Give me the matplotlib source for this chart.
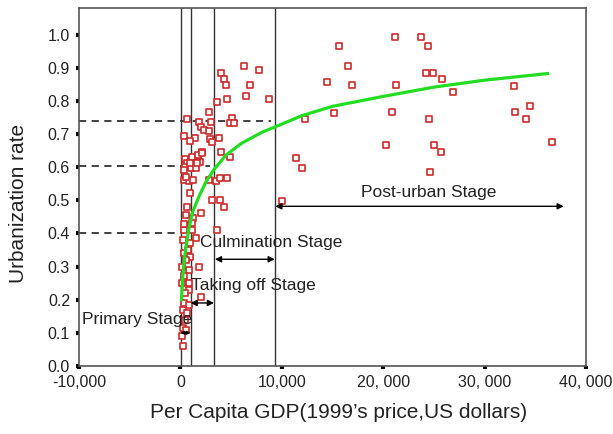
import matplotlib
matplotlib.use("Agg")
import matplotlib.pyplot as plt

plt.rcParams['font.family'] = ['Liberation Sans', 'DejaVu Sans']

# scatter: per capita GDP vs urbanization rate
gdp = [15600, 16500, 14450, 16900, 15100, 12250, 11400, 12000, 10000, 21200,
       23700, 24400, 24200, 24900, 25800, 21300, 20900, 24500, 20300, 25000,
       25700, 24650, 26850, 32900, 34450, 33000, 34100, 36600,
       6300, 7770, 3990, 4320, 4510, 6880, 6490, 4580, 8690, 3620,
       2830, 600, 1820, 3000, 5100, 4900, 5300, 2040, 2280, 2770,
       330, 1480, 2870, 3790, 960, 3070, 2170, 4020, 1720, 4880,
       400, 1220, 1480, 1950, 630, 470, 350, 1050, 1570, 1130,
       1690, 2120, 960, 1620,
       300, 800, 1270, 500, 2840, 3500, 3850, 4580, 970, 3100,
       3850, 4250, 630, 570, 1220, 2010, 450, 1130, 3590, 380,
       1130, 1550, 250, 900, 300, 970, 150, 800, 1790, 300,
       800, 800, 400, 2010, 350, 800, 250, 600, 400, 250,
       500, 200, 240, 200, 700, 500, 300]
urban = [0.967, 0.906, 0.856, 0.847, 0.765, 0.745, 0.629, 0.597, 0.498, 0.994,
         0.994, 0.967, 0.886, 0.886, 0.866, 0.847, 0.767, 0.747, 0.668, 0.668,
         0.647, 0.587, 0.826, 0.846, 0.786, 0.766, 0.746, 0.675,
         0.906, 0.894, 0.886, 0.866, 0.848, 0.848, 0.814, 0.806, 0.806, 0.796,
         0.766, 0.746, 0.736, 0.736, 0.748, 0.735, 0.735, 0.723, 0.713, 0.708,
         0.695, 0.687, 0.685, 0.688, 0.680, 0.675, 0.647, 0.647, 0.634, 0.632,
         0.626, 0.622, 0.614, 0.617, 0.612, 0.602, 0.592, 0.597, 0.597, 0.632,
         0.637, 0.644, 0.612, 0.612,
         0.562, 0.557, 0.560, 0.572, 0.560, 0.557, 0.567, 0.567, 0.522, 0.502,
         0.502, 0.481, 0.481, 0.456, 0.446, 0.461, 0.426, 0.431, 0.409, 0.411,
         0.411, 0.386, 0.381, 0.371, 0.340, 0.330, 0.300, 0.290, 0.300, 0.270,
         0.250, 0.230, 0.220, 0.209, 0.189, 0.184, 0.169, 0.159, 0.139, 0.114,
         0.109, 0.089, 0.060, 0.250, 0.350, 0.320, 0.430]

# fitted trend (green)
fit_gdp = [100, 250, 500, 800, 1200, 1800, 2500, 3300, 4500, 6000,
           8000, 9500, 12000, 15000, 20000, 25000, 30000, 36200]
fit_urban = [0.20, 0.28, 0.35, 0.41, 0.465, 0.51, 0.555, 0.593, 0.637, 0.672,
             0.705, 0.724, 0.756, 0.784, 0.814, 0.842, 0.863, 0.883]

# stage boundaries and threshold rates
bounds = [100, 1000, 3300, 9350]
thresholds = [0.40, 0.605, 0.74]
thr_end = [0, 2950, 8900]

stages = ["Primary Stage", "Taking off Stage", "Culmination Stage", "Post-urban Stage"]
stage_x = [-9700, 1000, 1950, 24500]
stage_y = [0.139, 0.242, 0.372, 0.523]
arrow_x0 = [0, 1000, 3400, 9350]
arrow_x1 = [1000, 3300, 9300, 37800]
arrow_y = [0.10, 0.19, 0.322, 0.482]
arrow_head = [5, 9, 9, 9]

xticks = [-10000, 0, 10000, 20000, 30000, 40000]
xticklabels = ["-10,000", "0", "10,000", "20, 000", "30, 000", "40, 000"]
yticks = [0.0, 0.1, 0.2, 0.3, 0.4, 0.5, 0.6, 0.7, 0.8, 0.9, 1.0]

fig = plt.figure(figsize=(6.13, 4.34), dpi=100)
ax = fig.add_axes([0.129, 0.157, 0.827, 0.825])

for b in bounds:
    ax.axvline(b, color="#333333", lw=1.0, zorder=1)
for t, e in zip(thresholds, thr_end):
    ax.plot([-10000, e], [t, t], color="#333333", lw=1.3, ls=(0, (4, 3)), zorder=1)

ax.scatter(gdp, urban, marker="s", s=22, facecolors="white",
           edgecolors="#cc2b2b", linewidths=1.2, zorder=3)
ax.plot(fit_gdp, fit_urban, color="#22dd22", lw=2.3, zorder=4)

for i in range(len(stages)):
    if i == 3:
        ax.text(stage_x[i], stage_y[i], stages[i], fontsize=12.5, color="#222222",
                ha="center", va="center", zorder=5)
    else:
        ax.text(stage_x[i], stage_y[i], stages[i], fontsize=12.5, color="#222222",
                ha="left", va="center", zorder=5)
    ax.annotate("", xy=(arrow_x1[i], arrow_y[i]), xytext=(arrow_x0[i], arrow_y[i]),
                arrowprops=dict(arrowstyle="<|-|>", color="black", lw=1.0,
                                mutation_scale=arrow_head[i], shrinkA=0, shrinkB=0),
                zorder=5)

ax.set_xlim(-10000, 40000)
ax.set_ylim(0, 1.0816)
ax.set_xticks(xticks)
ax.set_xticklabels(xticklabels)
ax.set_yticks(yticks)
ax.set_yticklabels(["%.1f" % v for v in yticks])
ax.tick_params(direction="out", length=2.5, width=3, color="black",
               labelsize=11.5, labelcolor="#222222", pad=4)
for s in ax.spines.values():
    s.set_color("#555555")
    s.set_linewidth(1.2)

ax.set_xlabel("Per Capita GDP(1999\u2019s price,US dollars)", fontsize=15,
              color="#222222")
ax.set_ylabel("Urbanization rate", fontsize=15, color="#222222")
ax.xaxis.set_label_coords(0.511, -0.105)
ax.yaxis.set_label_coords(-0.10, 0.455)

fig.savefig("out.png", dpi=100)
